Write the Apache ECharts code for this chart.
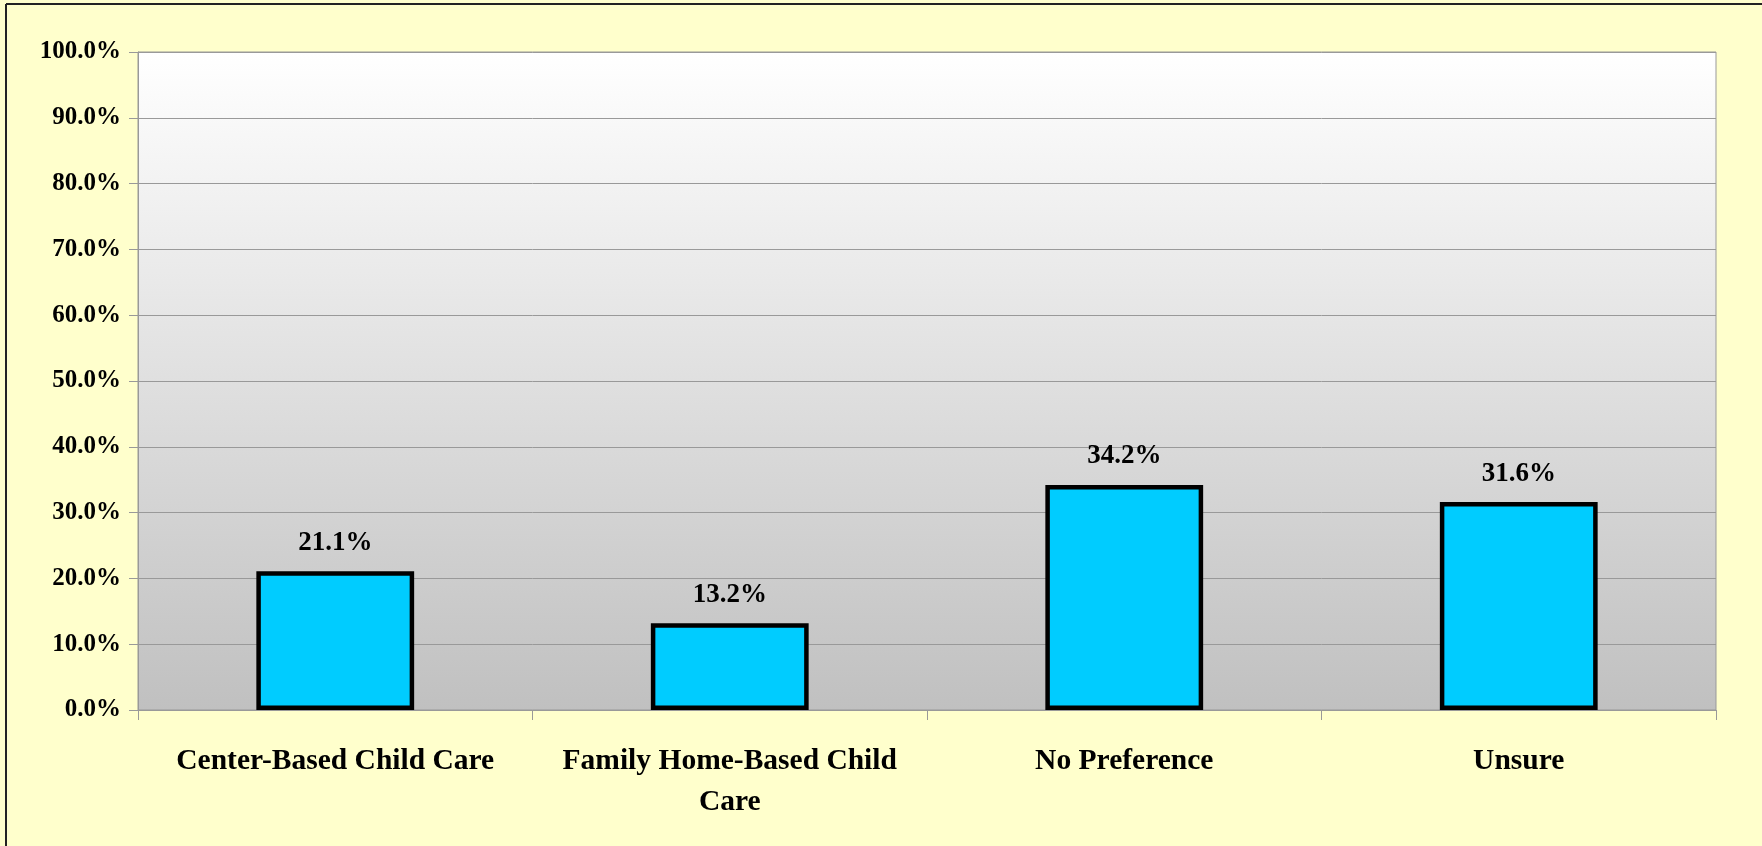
<!DOCTYPE html>
<html><head><meta charset="utf-8">
<script src="https://cdn.jsdelivr.net/npm/echarts@6/dist/echarts.min.js"></script>
<style>html,body{margin:0;padding:0;background:#FFFFCC}#c{width:1762px;height:846px}</style>
</head><body><div id="c"></div>
<script>
const categories = ['Center-Based Child Care', 'Family Home-Based Child\nCare', 'No Preference', 'Unsure'];
const values = [21.1, 13.2, 34.2, 31.6];
const yTicks = [0, 10, 20, 30, 40, 50, 60, 70, 80, 90, 100];

const font = '"Liberation Serif", "DejaVu Serif", serif';
const chart = echarts.init(document.getElementById('c'), null, {renderer: 'canvas'});
chart.setOption({
  backgroundColor: '#FFFFCC',
  animation: false,
  graphic: [
    {type: 'line', shape: {x1: 6, y1: 4, x2: 6, y2: 846}, style: {stroke: '#222', lineWidth: 2}},
    {type: 'line', shape: {x1: 6, y1: 4, x2: 1762, y2: 4}, style: {stroke: '#222', lineWidth: 2}}
  ],
  grid: {
    left: 138, top: 52, right: 46, bottom: 136,
    show: true,
    borderColor: '#999',
    borderWidth: 1,
    backgroundColor: new echarts.graphic.LinearGradient(0, 0, 0, 1, [
      {offset: 0, color: '#FFFFFF'}, {offset: 1, color: '#C0C0C0'}
    ])
  },
  xAxis: {
    type: 'category',
    data: categories,
    axisLine: {lineStyle: {color: '#999', width: 1}},
    axisTick: {show: true, length: 10, lineStyle: {color: '#999'}},
    axisLabel: {
      color: '#000', fontFamily: font, fontWeight: 'bold', fontSize: 29.5,
      margin: 31, lineHeight: 41, interval: 0
    }
  },
  yAxis: {
    type: 'value',
    min: yTicks[0], max: yTicks[yTicks.length - 1], interval: 10,
    axisLine: {show: true, lineStyle: {color: '#999', width: 1}},
    axisTick: {show: true, length: 9, lineStyle: {color: '#999'}},
    splitLine: {lineStyle: {color: '#999', width: 1}},
    axisLabel: {
      color: '#000', fontFamily: font, fontWeight: 'bold', fontSize: 25, margin: 17,
      formatter: v => v.toFixed(1) + '%'
    }
  },
  series: [{
    type: 'bar',
    data: values,
    barWidth: '40%',
    itemStyle: {color: '#00CCFF', borderColor: '#000', borderWidth: 4.5},
    label: {
      show: true, position: 'top', distance: 15,
      color: '#000', fontFamily: font, fontWeight: 'bold', fontSize: 27,
      formatter: p => p.value.toFixed(1) + '%'
    }
  }]
});
</script></body></html>
